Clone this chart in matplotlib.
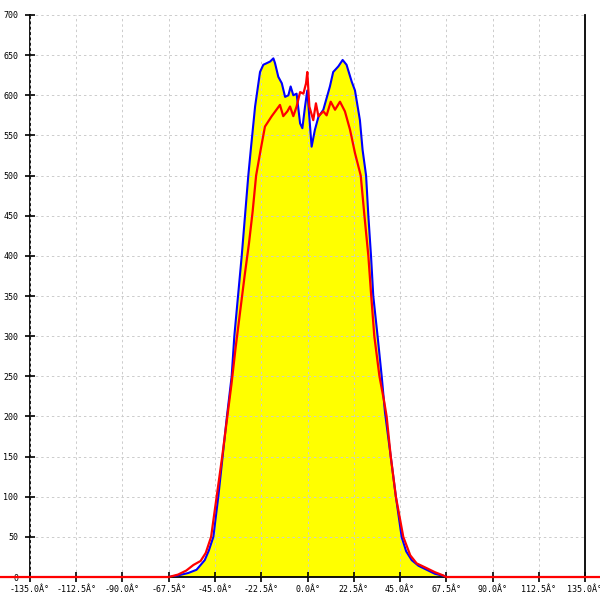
import matplotlib
matplotlib.use("Agg")
import matplotlib.pyplot as plt
import numpy as np

# blue curve (filled yellow underneath)
blue_x = [-150, -67.5, -63, -58, -54, -50, -48, -45.8, -43.4, -41.3, -39.2, -36.9, -35.6,
          -33.8, -32, -30.4, -28.8, -27.6, -25.5, -23.1, -21.5, -18.2, -16.6, -15.8, -14.2,
          -12.5, -10.9, -9.3, -8.2, -6.9, -5.3, -3.6, -2.5, -1.2, -0.1, 2.0, 3.6, 5.3, 7.7,
          10.9, 12.5, 15, 17.1, 19, 21.5, 23.1, 25.5, 26.8, 28.5, 29.6, 30.9, 32, 34.1, 36.1,
          37.7, 40.5, 43, 45.8, 48, 50.7, 54, 58, 62, 66.9, 67.5, 150]
blue_y = [0, 0, 2, 5, 9, 21, 33, 50, 100, 150, 200, 250, 300,
          350, 400, 450, 500, 532, 586, 629, 638, 642, 646, 640, 623,
          615, 598, 600, 611, 600, 602, 565, 559, 586, 606, 536, 557, 573, 582,
          611, 629, 636, 644, 638, 617, 606, 569, 532, 500, 450, 400, 350, 300, 250,
          205, 150, 100, 50, 32, 21, 14, 9, 4, 1, 0, 0]

# red curve
red_x = [-150, -67.5, -63, -59, -55.5, -52, -49.5, -46.9, -44.2, -41.5, -39, -37, -35,
         -32.8, -30.6, -28.5, -26.7, -25, -22.8, -20.7, -17.4, -13.4, -11.8, -9.8, -8.5, -6.9,
         -5.3, -3.6, -2, -0.7, -0.1, 0.9, 2.8, 4.1, 5.3, 7.7, 9.3, 11.3, 13.4, 15.8, 18.2,
         20.7, 23.1, 25.9, 27.7, 29.6, 31, 32.5, 35, 37.2, 38.5, 40.5, 43, 46.6, 50, 53.1,
         58, 62, 66, 67.5, 150]
red_y = [0, 0, 3, 8, 15, 20, 30, 50, 100, 150, 200, 240, 285,
         330, 375, 415, 455, 500, 532, 561, 574, 588, 574, 580, 586, 574,
         586, 604, 602, 615, 629, 586, 569, 590, 574, 580, 575, 592, 582, 592, 580,
         557, 528, 500, 450, 400, 350, 300, 250, 220, 200, 150, 100, 50, 27, 17,
         11, 6, 2, 0, 0]

x_ticks = np.arange(-135, 135.1, 22.5)
x_labels = ["%.1fÂ°" % t for t in x_ticks]
y_ticks = np.arange(0, 701, 50)

fig = plt.figure(figsize=(6, 6), dpi=100)
ax = fig.add_axes([0.05, 0.0383, 0.925, 0.9367])

ax.fill_between(blue_x, blue_y, 0, color="#ffff00", lw=0, zorder=1)
ax.plot(blue_x, blue_y, color="#0000ff", lw=1.5, zorder=3)
ax.plot(red_x, red_y, color="#ff0000", lw=1.6, zorder=4, clip_on=False)

ax.set_xlim(-135, 135)
ax.set_ylim(0, 700)
ax.set_xticks(x_ticks)
ax.set_xticklabels(x_labels)
ax.set_yticks(y_ticks)

ax.set_axisbelow(False)
ax.grid(True, color="#cccccc", ls=(0, (2.5, 3)), lw=0.7, zorder=2)

ax.spines["top"].set_visible(False)
for s in ["left", "bottom", "right"]:
    ax.spines[s].set_linewidth(1.3)
    ax.spines[s].set_color("black")

ax.tick_params(direction="inout", length=7, width=1.2, labelsize=6, pad=3)
ax.tick_params(axis="x", pad=2)
ax.tick_params(axis="y", pad=5)
for lab in ax.get_xticklabels() + ax.get_yticklabels():
    lab.set_family("DejaVu Sans Mono")

fig.savefig("out.png", dpi=100)
